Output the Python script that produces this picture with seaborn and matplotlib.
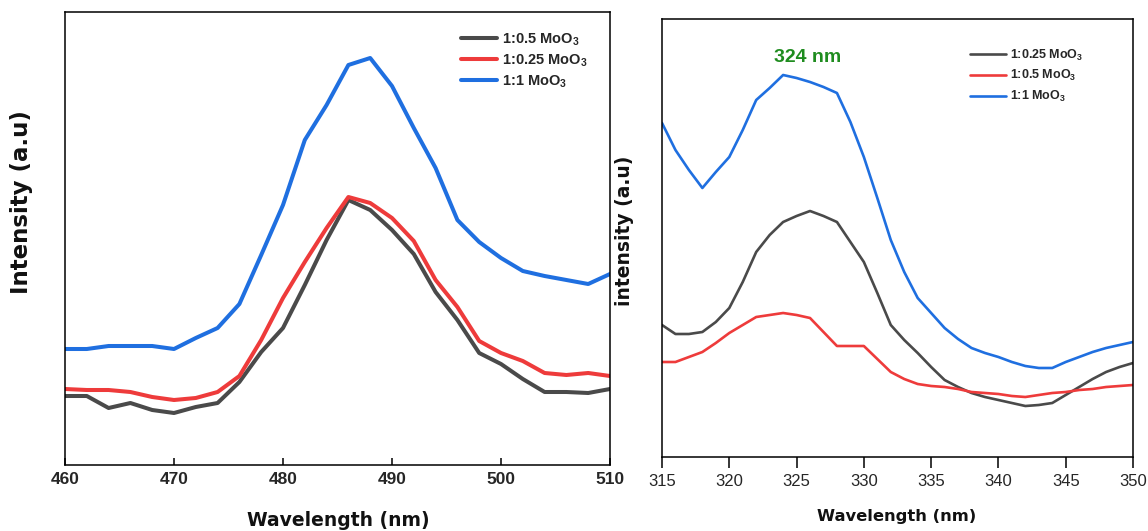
import numpy as np
import pandas as pd
import matplotlib
matplotlib.use("Agg")
import matplotlib.pyplot as plt
import seaborn as sns

# ---------------- data (left panel) ----------------
wl_left = [460, 462, 464, 466, 468, 470, 472, 474, 476, 478, 480, 482, 484,
           486, 488, 490, 492, 494, 496, 498, 500, 502, 504, 506, 508, 510]
left_05 = [69, 69, 57, 62, 55, 52, 58, 62, 83, 113, 137, 180, 225,
           265, 255, 235, 211, 173, 145, 112, 101, 86, 73, 73, 72, 76]
left_025 = [76, 75, 75, 73, 68, 65, 67, 73, 89, 125, 167, 203, 237,
            268, 262, 247, 224, 185, 158, 124, 112, 104, 92, 90, 92, 89]
left_1 = [116, 116, 119, 119, 119, 116, 127, 137, 161, 210, 260, 325, 360,
          400, 407, 379, 337, 297, 245, 223, 207, 194, 189, 185, 181, 191]
left_labels = ["1:0.5 MoO$_\\mathbf{3}$", "1:0.25 MoO$_\\mathbf{3}$", "1:1 MoO$_\\mathbf{3}$"]
left_ticks = [460, 470, 480, 490, 500, 510]

# ---------------- data (right panel) ----------------
wl_right = list(range(315, 351))
right_025 = [132, 123, 123, 125, 135, 149, 175, 205, 222, 235, 241, 246, 241, 235,
             215, 195, 164, 132, 117, 104, 90, 77, 70, 64, 60, 57, 54, 51, 52, 54,
             62, 70, 78, 85, 90, 94]
right_05 = [95, 95, 100, 105, 114, 124, 132, 140, 142, 144, 142, 139, 125, 111,
            111, 111, 98, 85, 78, 73, 71, 70, 68, 65, 64, 63, 61, 60, 62, 64,
            65, 67, 68, 70, 71, 72]
right_1 = [334, 307, 287, 269, 285, 300, 327, 357, 369, 382, 379, 375, 370, 364,
           335, 300, 259, 217, 185, 159, 144, 129, 118, 109, 104, 100, 95, 91, 89, 89,
           95, 100, 105, 109, 112, 115]
right_labels = ["1:0.25 MoO$_\\mathbf{3}$", "1:0.5 MoO$_\\mathbf{3}$", "1:1 MoO$_\\mathbf{3}$"]
right_ticks = [315, 320, 325, 330, 335, 340, 345, 350]
peak_label = "324 nm"
peak_x, peak_y = 325.85, 399

GRAY = "#4a4a4a"
RED = "#ee3b3b"
BLUE = "#1f6fe0"

sns.set_theme(style="white")
plt.rcParams["font.family"] = ["Liberation Sans", "DejaVu Sans"]
plt.rcParams["mathtext.fontset"] = "custom"
plt.rcParams["mathtext.rm"] = "Liberation Sans"
plt.rcParams["mathtext.bf"] = "Liberation Sans:bold"

fig = plt.figure(figsize=(11.48, 5.31), dpi=100)
W, H = 1148, 531
ax1 = fig.add_axes([65 / W, 1 - 465 / H, 545 / W, 453 / H])
ax2 = fig.add_axes([662 / W, 1 - 457 / H, 471 / W, 438 / H])

# left panel
for ys, col, lab in zip([left_05, left_025, left_1], [GRAY, RED, BLUE], left_labels):
    df = pd.DataFrame({"wl": wl_left, "I": ys})
    sns.lineplot(data=df, x="wl", y="I", ax=ax1, color=col, linewidth=2.9, label=lab)
ax1.set_xlim(460, 510)
ax1.set_ylim(0, 453)
ax1.set_xticks(left_ticks)
ax1.set_yticks([])
ax1.tick_params(axis="x", direction="in", length=5, width=1.1, color="black",
                bottom=True, pad=5, labelsize=12.5)
for t in ax1.get_xticklabels():
    t.set_fontweight("bold")
ax1.set_xlabel("")
ax1.set_ylabel("")
for s in ax1.spines.values():
    s.set_color("black")
    s.set_linewidth(1.1)
leg1 = ax1.legend(loc="upper left", bbox_to_anchor=(0.726, 0.958), frameon=False,
                  borderpad=0, borderaxespad=0, handlelength=2.5, handletextpad=0.3,
                  labelspacing=0.3, prop={"family": "Liberation Sans", "weight": "bold", "size": 10.5})

# right panel
for ys, col, lab in zip([right_025, right_05, right_1], [GRAY, RED, BLUE], right_labels):
    df = pd.DataFrame({"wl": wl_right, "I": ys})
    sns.lineplot(data=df, x="wl", y="I", ax=ax2, color=col, linewidth=1.9, label=lab)
ax2.set_xlim(315, 350)
ax2.set_ylim(0, 438)
ax2.set_xticks(right_ticks)
ax2.set_yticks([])
ax2.tick_params(axis="x", direction="out", length=8, width=1.1, color="black",
                bottom=True, pad=4, labelsize=12)
ax2.set_xlabel("")
ax2.set_ylabel("")
for s in ax2.spines.values():
    s.set_color("black")
    s.set_linewidth(1.1)
leg2 = ax2.legend(loc="upper left", bbox_to_anchor=(0.653, 0.935), frameon=False,
                  borderpad=0, borderaxespad=0, handlelength=2.9, handletextpad=0.3,
                  labelspacing=0.45, prop={"family": "Liberation Sans", "weight": "bold", "size": 9})

ax2.text(peak_x, peak_y, peak_label, color="#1f8c1f", fontsize=14, fontweight="bold",
         ha="center", va="center", family="Liberation Sans")

# axis labels
fig.text(338 / W, 1 - 521 / H, "Wavelength (nm)", ha="center", va="center",
         fontsize=13.5, fontweight="bold", family="DejaVu Sans", color="#111111")
fig.text(897 / W, 1 - 517 / H, "Wavelength (nm)", ha="center", va="center",
         fontsize=11.8, fontweight="bold", family="DejaVu Sans", color="#111111")
fig.text(22 / W, 1 - 202 / H, "Intensity (a.u)", ha="center", va="center", rotation=90,
         fontsize=16.5, fontweight="bold", family="DejaVu Sans", color="#111111")
fig.text(625 / W, 1 - 231 / H, "intensity (a.u)", ha="center", va="center", rotation=90,
         fontsize=13.5, fontweight="bold", family="DejaVu Sans", color="#111111")

fig.savefig("out.png", dpi=100, facecolor="white")
